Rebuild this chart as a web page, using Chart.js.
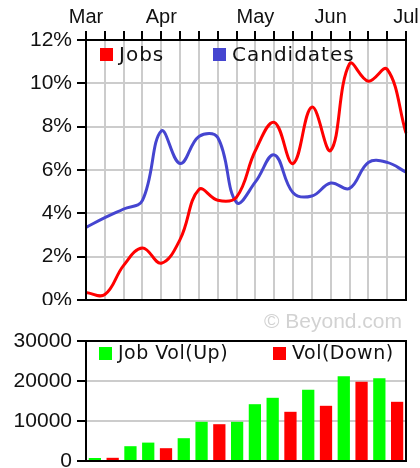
<!DOCTYPE html>
<html lang="en">
<head>
<meta charset="UTF-8">
<title>Jobs vs Candidates</title>
<script src="https://cdn.jsdelivr.net/npm/chart.js@4.4.0/dist/chart.umd.min.js"></script>
<style>
  body {
    margin: 0;
    background: #fff;
    width: 420px;
    height: 468px;
    overflow: hidden;
    position: relative;
    font-family: 'Liberation Sans', Arial, sans-serif;
  }
  #topBox { position: absolute; left: 0; top: 0; width: 420px; height: 305px; }
  #bottomBox { position: absolute; left: 0; top: 305px; width: 420px; height: 163px; }
  .mark {
    position: absolute;
    right: 18px;
    top: 310px;
    font-size: 21px;
    line-height: 21px;
    color: #d2d2d2;
  }
</style>
</head>
<body>
<div id="topBox"><canvas id="rateChart"></canvas></div>
<div id="bottomBox"><canvas id="volChart"></canvas></div>
<div class="mark">© Beyond.com</div>

<script>
// weekly points, month names on the first week of each month
const weeks = ['Mar', '', '', '', 'Apr', '', '', '', '', 'May', '', '', '', 'Jun', '', '', '', 'Jul'];
const jobs = [0.35, 0.25, 1.6, 2.4, 1.7, 2.8, 5.1, 4.6, 4.75, 6.9, 8.2, 6.3, 8.9, 6.9, 10.9, 10.1, 10.65, 7.7];
const candidates = [3.35, 3.8, 4.2, 4.6, 7.8, 6.3, 7.55, 7.5, 4.5, 5.45, 6.7, 4.95, 4.8, 5.4, 5.15, 6.35, 6.35, 5.9];

// job volume, split by direction
const volUp = [750, null, 3700, 4600, null, 5700, 9800, null, 9800, 14200, 15800, null, 17800, null, 21200, null, 20700, null];
const volDown = [null, 800, null, null, 3200, null, null, 9200, null, null, null, 12300, null, 13800, null, 19800, null, 14800];

const axisFont = { family: "'Liberation Sans', Arial, sans-serif", size: 21 };

// black box round the plot area
const frame = {
    id: 'frame',
    afterDraw(chart) {
        const { ctx, chartArea: a } = chart;
        ctx.save();
        ctx.strokeStyle = '#000';
        ctx.lineWidth = 2;
        ctx.strokeRect(a.left, a.top, a.right - a.left, a.bottom - a.top);
        ctx.restore();
    }
};

// legend sits inside the plot area
const insideLegend = {
    id: 'insideLegend',
    afterDatasetsDraw(chart, args, opts) {
        const { ctx, chartArea: a } = chart;
        ctx.save();
        ctx.font = opts.font;
        ctx.letterSpacing = opts.spacing;
        ctx.textBaseline = 'middle';
        chart.data.datasets.forEach((ds, i) => {
            const x = a.left + opts.xs[i];
            const y = a.top + opts.y;
            ctx.fillStyle = chart.config.type === 'line' ? ds.borderColor : ds.backgroundColor;
            ctx.fillRect(x, y, 13, 13);
            ctx.fillStyle = '#111';
            ctx.fillText(ds.label, x + 19, y + 7.5);
        });
        ctx.restore();
    }
};

function yFit(w) {
    return s => { s.width = w; s.paddingTop = 0; s.paddingBottom = 0; };
}

new Chart(document.getElementById('rateChart'), {
    type: 'line',
    data: {
        labels: weeks,
        datasets: [
            { label: 'Jobs', data: jobs, borderColor: '#ff0000', borderWidth: 3, pointRadius: 0, tension: 0.4 },
            { label: 'Candidates', data: candidates, borderColor: '#4545d0', borderWidth: 3, pointRadius: 0, tension: 0.4 }
        ]
    },
    options: {
        responsive: true,
        maintainAspectRatio: false,
        animation: false,
        layout: { padding: { top: 0, right: 14, bottom: 5, left: 0 } },
        plugins: {
            legend: { display: false },
            tooltip: { enabled: false },
            insideLegend: { font: "20px 'DejaVu Sans'", spacing: '1px', xs: [14, 127], y: 8 }
        },
        scales: {
            x: {
                position: 'top',
                afterFit: s => { s.height = 40; s.paddingLeft = 0; s.paddingRight = 0; },
                grid: { color: '#cccccc', lineWidth: 2, tickColor: '#000', tickLength: 9, tickWidth: 2 },
                border: { color: '#000', width: 2 },
                ticks: { autoSkip: false, maxRotation: 0, padding: 2, color: '#111', font: { family: axisFont.family, size: 20 } }
            },
            y: {
                min: 0,
                max: 12,
                afterFit: yFit(86),
                grid: { color: '#cccccc', lineWidth: 2, tickColor: '#000', tickLength: 9, tickWidth: 2 },
                border: { color: '#000', width: 2 },
                ticks: { stepSize: 2, padding: 5, color: '#111', font: axisFont, callback: v => v + '%' }
            }
        }
    },
    plugins: [insideLegend, frame]
});

new Chart(document.getElementById('volChart'), {
    type: 'bar',
    data: {
        labels: weeks,
        datasets: [
            { label: 'Job Vol(Up)', data: volUp, backgroundColor: '#00ff00' },
            { label: 'Vol(Down)', data: volDown, backgroundColor: '#ff0000' }
        ]
    },
    options: {
        responsive: true,
        maintainAspectRatio: false,
        animation: false,
        barPercentage: 0.69,
        categoryPercentage: 1,
        layout: { padding: { top: 36, right: 14, bottom: 7, left: 0 } },
        plugins: {
            legend: { display: false },
            tooltip: { enabled: false },
            insideLegend: { font: "19px 'DejaVu Sans'", spacing: '0.5px', xs: [13, 187], y: 6 }
        },
        scales: {
            x: { display: false, stacked: true },
            y: {
                stacked: true,
                min: 0,
                max: 30000,
                afterFit: yFit(86),
                grid: { color: '#cccccc', lineWidth: 2, tickColor: '#000', tickLength: 9, tickWidth: 2 },
                border: { color: '#000', width: 2 },
                ticks: { stepSize: 10000, padding: 5, color: '#111', font: axisFont, callback: v => String(v) }
            }
        }
    },
    plugins: [insideLegend, frame]
});
</script>
</body>
</html>
